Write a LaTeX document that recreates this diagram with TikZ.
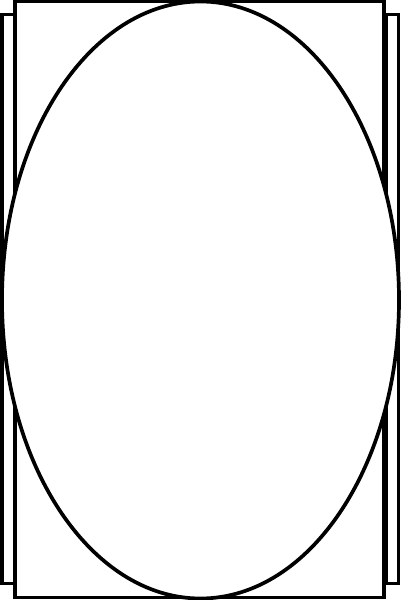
\documentclass[tikz,border=0pt]{standalone}
\usepackage{tikz}

\begin{document}
\begin{tikzpicture}[scale=0.2]
\tikzstyle{every path}+=[line width=2.1pt]
\useasboundingbox (0,0) rectangle (40.1,-60);
\draw [black] (0.2,-1.45) rectangle (1.5,-58.35);
\draw [black] (38.6,-1.45) rectangle (39.85,-58.35);
\draw [black] (1.5,-0.1) rectangle (38.4,-59.75);
\draw [black, fill=white] (20.05,-30) ellipse (19.85 and 29.85);
\end{tikzpicture}
\end{document}
